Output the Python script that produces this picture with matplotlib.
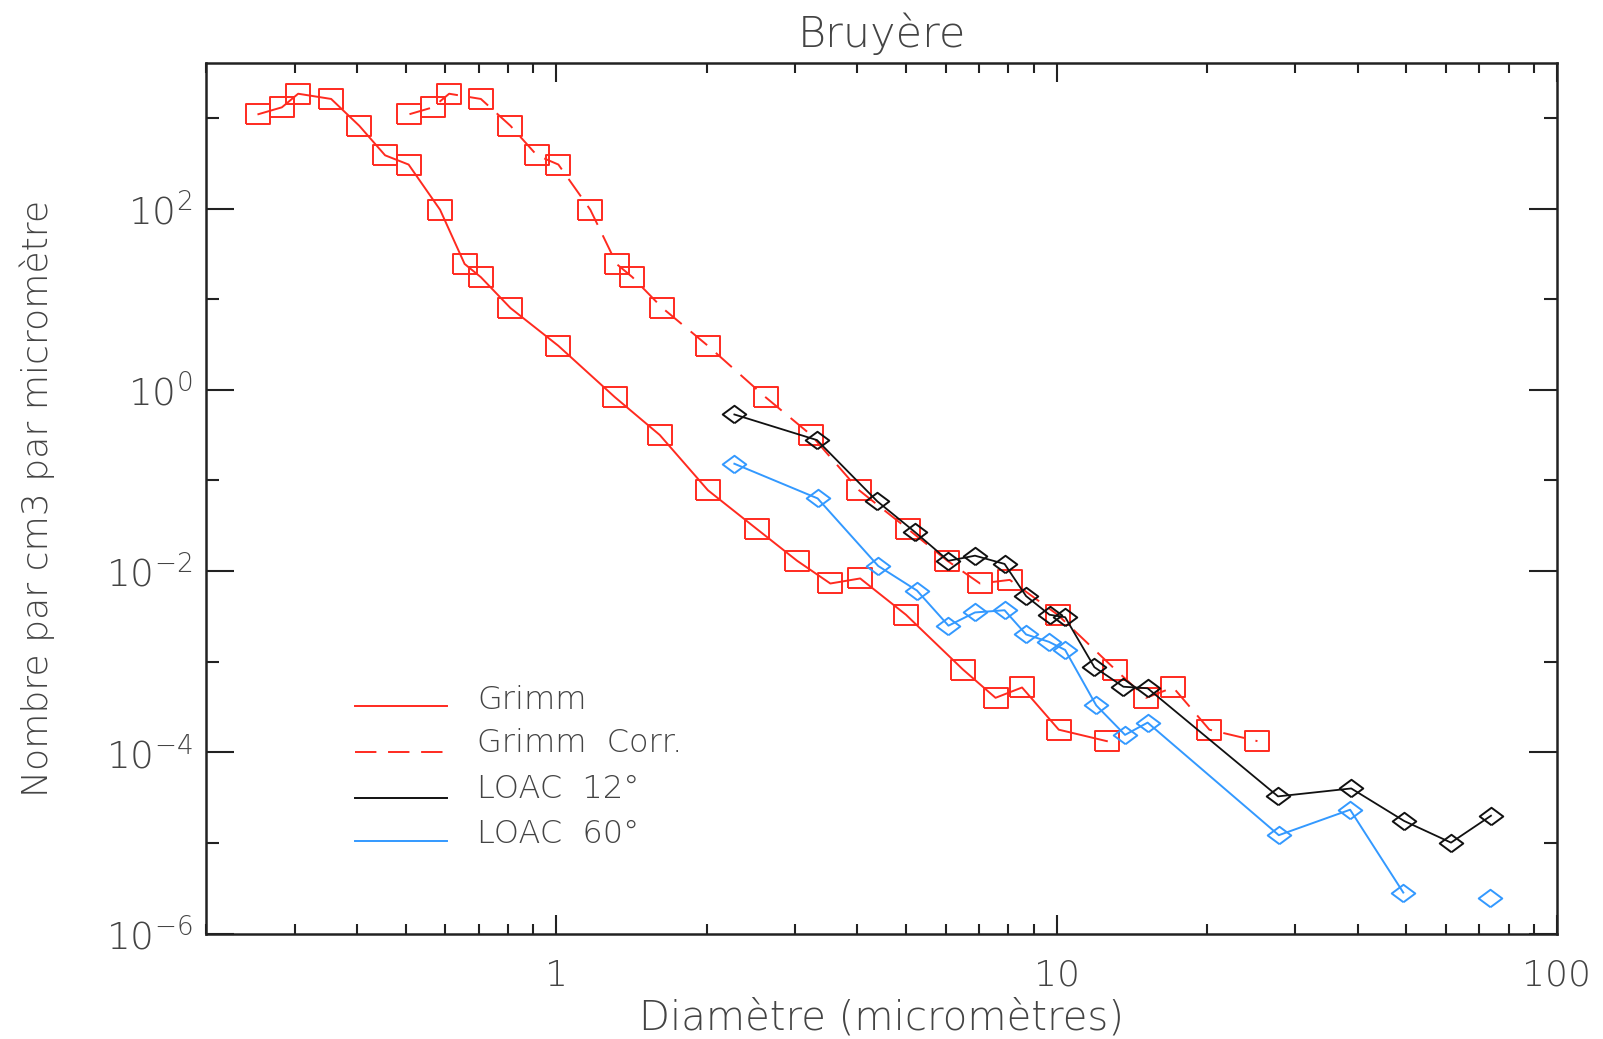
import numpy as np
import matplotlib
matplotlib.use('Agg')
import matplotlib.pyplot as plt
from matplotlib.ticker import FixedLocator, LogLocator, NullFormatter, FuncFormatter

plt.rcParams['font.family'] = ['DejaVu Sans']
plt.rcParams['font.weight'] = 'light'
plt.rcParams['axes.titleweight'] = 'light'
plt.rcParams['axes.labelweight'] = 'light'
plt.rcParams['mathtext.default'] = 'regular'

# ===== données =====
grimm_d = [0.254, 0.283, 0.305, 0.355, 0.404, 0.455, 0.507, 0.586, 0.656, 0.707,
           0.810, 1.01, 1.31, 1.61, 2.01, 2.52, 3.03, 3.53, 4.05, 5.0,
           6.50, 7.55, 8.53, 10.1, 12.6]
grimm_n = [1100, 1310, 1850, 1620, 820, 387, 306, 97, 24.5, 17.5,
           8.0, 3.06, 0.83, 0.318, 0.078, 0.029, 0.013, 0.0073, 0.0083, 0.0033,
           0.00082, 0.0004, 0.00052, 0.000178, 0.000133]

corr_d = [0.509, 0.567, 0.611, 0.707, 0.81, 0.915, 1.01, 1.17, 1.32, 1.42,
          1.63, 2.01, 2.62, 3.23, 4.03, 5.05, 6.05, 7.03, 8.06, 10.05,
          13.1, 15.1, 17.1, 20.2, 25.2]
corr_n = [1100, 1310, 1850, 1620, 820, 387, 306, 97, 24.5, 17.5,
          8.0, 3.06, 0.83, 0.318, 0.078, 0.029, 0.013, 0.0073, 0.0080, 0.0033,
          0.00082, 0.0004, 0.00052, 0.000178, 0.000133]

loac12_d = [2.27, 3.32, 4.38, 5.21, 6.08, 6.87, 7.87, 8.69, 9.68, 10.4,
            11.9, 13.6, 15.2, 27.7, 38.8, 49.5, 61.4, 73.8]
loac12_n = [0.535, 0.279, 0.059, 0.027, 0.013, 0.0148, 0.012, 0.0053, 0.0033, 0.0031,
            0.00087, 0.00053, 0.00051, 3.27e-5, 4.0e-5, 1.75e-5, 1.01e-5, 2.0e-5]

loac60_d = [2.27, 3.33, 4.40, 5.26, 6.08, 6.87, 7.87, 8.69, 9.65, 10.4,
            12.0, 13.7, 15.2, 27.8, 38.6, 49.3, 61.4, 73.6]
loac60_n = [0.153, 0.0634, 0.0114, 0.0061, 0.0025, 0.0035, 0.0037, 0.0020, 0.00166, 0.00135,
            0.00033, 0.000156, 0.000213, 1.22e-5, 2.33e-5, 2.84e-6, np.nan, 2.5e-6]

rouge = '#ff2a1f'
bleu = '#3399ff'
noir = '#111111'
gris = '#444444'
cadre = '#222222'

# marqueurs un peu aplatis (comme les symboles IDL)
carre = [(-1, -0.79), (1, -0.79), (1, 0.79), (-1, 0.79), (-1, -0.79)]
losange = [(0, -0.74), (1, 0), (0, 0.74), (-1, 0), (0, -0.74)]
tirets = (0, (11, 6))

fig = plt.figure(figsize=(16.03, 10.39), dpi=100)
ax = fig.add_axes([0.1288, 0.1014, 0.8425, 0.8376])

ax.plot(grimm_d, grimm_n, color=rouge, lw=1.4, marker=carre, ms=17.5,
        mfc='none', mec=rouge, mew=1.4)
ax.plot(corr_d, corr_n, color=rouge, lw=1.4, ls=tirets, marker=carre, ms=17.5,
        mfc='none', mec=rouge, mew=1.4)
ax.plot(loac12_d, loac12_n, color=noir, lw=1.3, marker=losange, ms=17,
        mfc='none', mec=noir, mew=1.4)
ax.plot(loac60_d, loac60_n, color=bleu, lw=1.4, marker=losange, ms=17,
        mfc='none', mec=bleu, mew=1.4)

ax.set_xscale('log')
ax.set_yscale('log')
ax.set_xlim(0.2, 100)
ax.set_ylim(1e-6, 4000)

# graduations
ax.xaxis.set_major_locator(FixedLocator([1, 10, 100]))
ax.xaxis.set_minor_locator(LogLocator(base=10, subs=np.arange(2, 10)))
ax.xaxis.set_major_formatter(FuncFormatter(lambda v, p: '%g' % v))
ax.xaxis.set_minor_formatter(NullFormatter())
ax.yaxis.set_major_locator(FixedLocator([1e-6, 1e-4, 1e-2, 1, 1e2]))
ax.yaxis.set_minor_locator(FixedLocator([1e-5, 1e-3, 1e-1, 10, 1e3]))
ax.yaxis.set_major_formatter(FuncFormatter(lambda v, p: '$10^{%d}$' % round(np.log10(v))))
ax.yaxis.set_minor_formatter(NullFormatter())

ax.tick_params(which='both', direction='in', top=True, right=True, color=cadre,
               labelcolor=gris, width=1.5)
ax.tick_params(axis='x', which='major', length=14, labelsize=26, pad=18)
ax.tick_params(axis='x', which='minor', length=7.5)
ax.tick_params(axis='y', which='major', length=20, labelsize=27, pad=10)
ax.tick_params(axis='y', which='minor', length=9.5)
for s in ax.spines.values():
    s.set_linewidth(1.8)
    s.set_color(cadre)

ax.set_title('Bruyère', fontsize=31, color=gris, pad=12)
ax.set_xlabel('Diamètre (micromètres)', fontsize=29, color=gris, labelpad=4)
ax.set_ylabel('Nombre par cm3 par micromètre', fontsize=26, color=gris)
ax.yaxis.set_label_coords(-0.112, 0.5)

# légende tracée à la main, comme dans IDL
legende = [('Grimm', rouge, '-'), ('Grimm  Corr.', rouge, tirets),
           ('LOAC  12°', noir, '-'), ('LOAC  60°', bleu, '-')]
y_lig = [0.262, 0.209, 0.156, 0.106]
y_txt = [0.268, 0.2186, 0.1657, 0.115]
for (lab, c, ls), yl, yt in zip(legende, y_lig, y_txt):
    ax.plot([0.1098, 0.1779], [yl, yl], transform=ax.transAxes, color=c, ls=ls, lw=1.4)
    ax.text(0.2006, yt, lab, transform=ax.transAxes, fontsize=23, color=gris,
            va='center', ha='left')

fig.savefig('out.png', dpi=100)
